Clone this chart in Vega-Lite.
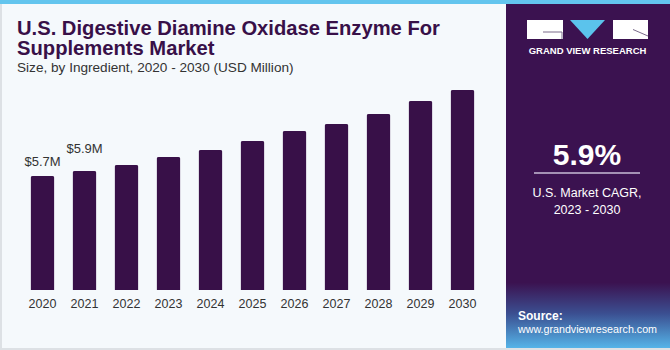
{
  "$schema": "https://vega.github.io/schema/vega-lite/v6.json",
  "background": "#f5f9fc",
  "padding": 0,
  "spacing": 0,
  "bounds": "flush",
  "config": {"view": {"stroke": null}, "font": "Liberation Sans"},
  "datasets": {
    "market": [
      {"year": "2020", "value": 5.7, "label": "$5.7M"},
      {"year": "2021", "value": 5.95, "label": "$5.9M"},
      {"year": "2022", "value": 6.25, "label": ""},
      {"year": "2023", "value": 6.65, "label": ""},
      {"year": "2024", "value": 7.0, "label": ""},
      {"year": "2025", "value": 7.45, "label": ""},
      {"year": "2026", "value": 7.95, "label": ""},
      {"year": "2027", "value": 8.3, "label": ""},
      {"year": "2028", "value": 8.8, "label": ""},
      {"year": "2029", "value": 9.45, "label": ""},
      {"year": "2030", "value": 10.0, "label": ""}
    ],
    "one": [{}]
  },
  "hconcat": [
    {
      "width": 505,
      "height": 290,
      "layer": [
        {
          "data": {"name": "one"},
          "mark": {"type": "rect", "color": "#dde1e5", "x": 0, "x2": 2, "y": 0, "y2": 350},
          "encoding": {}
        },
        {
          "data": {"name": "one"},
          "mark": {"type": "rect", "color": "#dde1e5", "x": 0, "x2": 505, "y": 348, "y2": 350},
          "encoding": {}
        },
        {
          "data": {"name": "one"},
          "mark": {"type": "rect", "color": "#63c5ee", "x": 0, "x2": 505, "y": 0, "y2": 4},
          "encoding": {}
        },
        {
          "data": {"name": "market"},
          "mark": {"type": "bar", "color": "#381048", "cornerRadiusTopLeft": 2, "cornerRadiusTopRight": 2},
          "encoding": {
            "x": {
              "field": "year", "type": "ordinal",
              "scale": {"paddingInner": 0.4286, "paddingOuter": 0.726},
              "axis": {"title": null, "domain": false, "ticks": false, "tickSize": 0, "labelPadding": 7, "labelFontSize": 12.5, "labelColor": "#333333", "labelAngle": 0}
            },
            "y": {
              "field": "value", "type": "quantitative",
              "scale": {"domain": [0, 14.5], "nice": false},
              "axis": null
            }
          }
        },
        {
          "data": {"name": "market"},
          "transform": [{"filter": "datum.year == '2020'"}],
          "mark": {"type": "text", "fontSize": 13, "color": "#333333", "baseline": "alphabetic", "dy": -10},
          "encoding": {
            "x": {"field": "year", "type": "ordinal"},
            "y": {"field": "value", "type": "quantitative"},
            "text": {"field": "label"}
          }
        },
        {
          "data": {"name": "market"},
          "transform": [{"filter": "datum.year == '2021'"}],
          "mark": {"type": "text", "fontSize": 13, "color": "#333333", "baseline": "alphabetic", "dy": -18},
          "encoding": {
            "x": {"field": "year", "type": "ordinal"},
            "y": {"field": "value", "type": "quantitative"},
            "text": {"field": "label"}
          }
        },
        {
          "data": {"name": "one"},
          "mark": {"type": "text", "x": 17, "y": 35, "align": "left", "baseline": "alphabetic", "fontSize": 20.2, "fontWeight": "bold", "color": "#381048", "lineHeight": 20, "text": ["U.S. Digestive Diamine Oxidase Enzyme For", "Supplements Market"]},
          "encoding": {}
        },
        {
          "data": {"name": "one"},
          "mark": {"type": "text", "x": 17, "y": 72, "align": "left", "baseline": "alphabetic", "fontSize": 13.6, "color": "#333333", "text": "Size, by Ingredient, 2020 - 2030 (USD Million)"},
          "encoding": {}
        }
      ]
    },
    {
      "width": 165,
      "height": 350,
      "data": {"name": "one"},
      "layer": [
        {
          "mark": {"type": "rect", "color": "#dde1e5", "x": 0, "x2": 165, "y": 348, "y2": 350},
          "encoding": {}
        },
        {
          "mark": {"type": "rect", "color": "#63c5ee", "x": 0, "x2": 165, "y": 0, "y2": 4},
          "encoding": {}
        },
        {
          "mark": {
            "type": "rect", "x": 1, "x2": 165, "y": 4, "y2": 348,
            "color": {
              "gradient": "linear", "x1": 0, "y1": 0, "x2": 0, "y2": 1,
              "stops": [
                {"offset": 0, "color": "#3b1250"},
                {"offset": 0.81, "color": "#3b1250"},
                {"offset": 0.9, "color": "#3b4f91"},
                {"offset": 1, "color": "#55b4e8"}
              ]
            }
          },
          "encoding": {}
        },
        {
          "mark": {"type": "rect", "color": "#ffffff", "x": 22, "x2": 58, "y": 20, "y2": 39},
          "encoding": {}
        },
        {
          "mark": {"type": "rect", "color": "#ffffff", "x": 108, "x2": 143, "y": 20, "y2": 39},
          "encoding": {}
        },
        {
          "mark": {"type": "rule", "color": "#7a6a8a", "strokeWidth": 1},
          "encoding": {"x": {"value": 38}, "x2": {"value": 57}, "y": {"value": 32}, "y2": {"value": 32}}
        },
        {
          "mark": {"type": "rule", "color": "#7a6a8a", "strokeWidth": 1},
          "encoding": {"x": {"value": 57}, "x2": {"value": 57}, "y": {"value": 32}, "y2": {"value": 39}}
        },
        {
          "mark": {"type": "rule", "color": "#7a6a8a", "strokeWidth": 1},
          "encoding": {"x": {"value": 128}, "x2": {"value": 143}, "y": {"value": 29.5}, "y2": {"value": 36}}
        },
        {
          "mark": {"type": "point", "shape": "M-1,-0.54L1,-0.54L0,0.54Z", "size": 1225, "filled": true, "opacity": 1, "color": "#5bc3ec", "x": 82.5, "y": 29.5},
          "encoding": {}
        },
        {
          "mark": {"type": "text", "x": 82.5, "y": 51, "align": "center", "baseline": "middle", "fontSize": 9.5, "fontWeight": "bold", "color": "#ffffff", "letterSpacing": 1, "text": "GRAND VIEW RESEARCH"},
          "encoding": {}
        },
        {
          "mark": {"type": "text", "x": 82, "y": 165, "align": "center", "baseline": "alphabetic", "fontSize": 30, "fontWeight": "bold", "color": "#ffffff", "text": "5.9%"},
          "encoding": {}
        },
        {
          "mark": {"type": "rule", "color": "#c9bdd6", "strokeWidth": 1.5},
          "encoding": {"x": {"value": 29}, "x2": {"value": 135}, "y": {"value": 173}, "y2": {"value": 173}}
        },
        {
          "mark": {"type": "text", "x": 82, "y": 193, "align": "center", "baseline": "middle", "fontSize": 12.5, "color": "#ffffff", "text": "U.S. Market CAGR,"},
          "encoding": {}
        },
        {
          "mark": {"type": "text", "x": 82, "y": 210, "align": "center", "baseline": "middle", "fontSize": 12.5, "color": "#ffffff", "text": "2023 - 2030"},
          "encoding": {}
        },
        {
          "mark": {"type": "text", "x": 13, "y": 316, "align": "left", "baseline": "middle", "fontSize": 12, "fontWeight": "bold", "color": "#ffffff", "text": "Source:"},
          "encoding": {}
        },
        {
          "mark": {"type": "text", "x": 13, "y": 330, "align": "left", "baseline": "middle", "fontSize": 10.7, "color": "#ffffff", "text": "www.grandviewresearch.com"},
          "encoding": {}
        }
      ]
    }
  ]
}
